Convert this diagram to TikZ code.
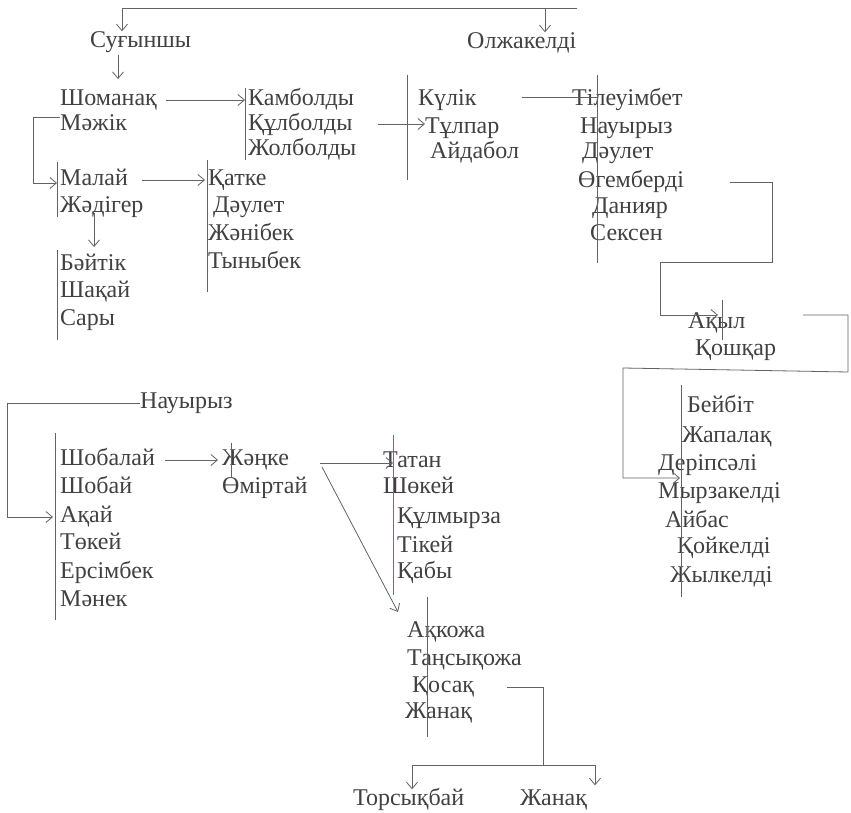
\documentclass[tikz,border=0pt]{standalone}
\usepackage{fontspec}
\setmainfont{Liberation Serif}
\usetikzlibrary{arrows.meta}
\definecolor{txt}{HTML}{414141}
\definecolor{lin}{HTML}{636363}
\definecolor{tealbar}{HTML}{4A7F8C}
\newcommand{\namefont}{\fontsize{24}{28}\selectfont}
\tikzset{
  nm/.style={anchor=west, inner sep=0pt, text=txt, font=\namefont, text height=16pt, text depth=5pt},
  vbar/.style={draw=lin, line width=0.9pt},
  ln/.style={draw=lin, line width=0.8pt},
  arr/.style={ln, -{Straight Barb[length=6.5pt,width=11pt]}},
}
\begin{document}
\begin{tikzpicture}[x=1pt,y=-1pt]
\useasboundingbox (0,0) rectangle (851,813);
\fill[white] (0,0) rectangle (851,813);

% ---------- names ----------
\node[nm] (sug)   at (90,42)  {Суғыншы};
\node[nm] (olzh)  at (467,43) {Олжакелді};
\node[nm] (shom)  at (60,100) {Шоманақ};
\node[nm] (mazh)  at (60,125) {Мәжік};
\node[nm] (kamb)  at (248,100) {Камболды};
\node[nm] (kulb)  at (248,125) {Құлболды};
\node[nm] (zhol)  at (248,150) {Жолболды};
\node[nm] (kulik) at (418,100) {Күлік};
\node[nm] (tulp)  at (425,128) {Тұлпар};
\node[nm] (aidab) at (430,153) {Айдабол};
\node[nm] (tileu) at (572,100) {Тілеуімбет};
\node[nm] (nauA)  at (580,128) {Науырыз};
\node[nm] (daulA) at (582,153) {Дәулет};
\node[nm] (ogem)  at (578,182) {Өгемберді};
\node[nm] (dani)  at (592,208) {Данияр};
\node[nm] (seks)  at (590,235) {Сексен};
\node[nm] (malai) at (60,180) {Малай};
\node[nm] (zhadi) at (60,207) {Жәдігер};
\node[nm] (katke) at (208,180) {Қатке};
\node[nm] (daulB) at (213,207) {Дәулет};
\node[nm] (zhani) at (208,235) {Жәнібек};
\node[nm] (tyny)  at (208,263) {Тыныбек};
\node[nm] (bait)  at (60,265) {Бәйтік};
\node[nm] (shaq)  at (60,292) {Шақай};
\node[nm] (sary)  at (60,320) {Сары};
\node[nm] (akyl)  at (688,323) {Ақыл};
\node[nm] (qosh)  at (695,350) {Қошқар};
\node[nm] (beib)  at (687,407) {Бейбіт};
\node[nm] (zhap)  at (682,437) {Жапалақ};
\node[nm] (derip) at (658,465) {Деріпсәлі};
\node[nm] (myrz)  at (658,493) {Мырзакелді};
\node[nm] (aibas) at (665,522) {Айбас};
\node[nm] (qoik)  at (677,548) {Қойкелді};
\node[nm] (zhylk) at (670,577) {Жылкелді};
\node[nm] (nauB)  at (140,403) {Науырыз};
\node[nm] (shobl) at (60,460) {Шобалай};
\node[nm] (shobi) at (60,488) {Шобай};
\node[nm] (aqai)  at (60,517) {Ақай};
\node[nm] (tokei) at (60,544) {Төкей};
\node[nm] (ersim) at (60,573) {Ерсімбек};
\node[nm] (manek) at (60,601) {Мәнек};
\node[nm] (zhank) at (222,460) {Жәңке};
\node[nm] (omir)  at (222,488) {Өміртай};
\node[nm] (tatan) at (383,462) {Татан};
\node[nm] (shok)  at (383,488) {Шөкей};
\node[nm] (kulm)  at (397,518) {Құлмырза};
\node[nm] (tikei) at (397,547) {Тікей};
\node[nm] (qaby)  at (397,573) {Қабы};
\node[nm] (aqkoz) at (407,632) {Ақкожа};
\node[nm] (tansy) at (407,660) {Таңсықожа};
\node[nm] (qosaq) at (412,687) {Қосақ};
\node[nm] (zhnq)  at (405,713) {Жанақ};
\node[nm] (tors)  at (353,800) {Торсықбай};
\node[nm] (zhnqB) at (520,800) {Жанақ};

% ---------- bars ----------
\coordinate (bK1) at (245,88);  \coordinate (bK2) at (245,160);
\coordinate (bL1) at (407,75);  \coordinate (bL2) at (407,180);
\coordinate (bT1) at (597,75);  \coordinate (bT2) at (597,263);
\coordinate (bM1) at (57,162);  \coordinate (bM2) at (57,217);
\coordinate (bQ1) at (207,160); \coordinate (bQ2) at (207,292);
\coordinate (bB1) at (57,250);  \coordinate (bB2) at (57,340);
\coordinate (bA1) at (722,300); \coordinate (bA2) at (722,340);
\coordinate (bE1) at (681,385); \coordinate (bE2) at (681,597);
\coordinate (bS1) at (55,433);  \coordinate (bS2) at (55,620);
\coordinate (bZ1) at (231,443); \coordinate (bZ2) at (231,478);
\coordinate (bN1) at (393,435); \coordinate (bN2) at (393,595);
\coordinate (bC1) at (427,597); \coordinate (bC2) at (427,737);
\foreach \a/\b in {bK1/bK2,bL1/bL2,bT1/bT2,bM1/bM2,bQ1/bQ2,bB1/bB2,bA1/bA2,bE1/bE2,bS1/bS2,bZ1/bZ2,bC1/bC2}
  \draw[vbar] (\a) -- (\b);
\draw[vbar, draw=tealbar] (bN1) -- (bN2);

% ---------- connectors ----------
% top bracket
\coordinate (tL) at (122,8); \coordinate (tR) at (577,8); \coordinate (tO) at (545,8);
\draw[ln] (tR) -- (tL);
\draw[arr] (tL) -- (tL |- sug.north);
\draw[arr] (tO) -- (tO |- olzh.north);
% Сугыншы -> Шоманақ
\coordinate (s1) at (118,55); \coordinate (s2) at (118,79);
\draw[arr] (s1) -- (s2);
% Шоманақ -> Камболды
\coordinate (c1) at (166,100);
\draw[arr] (c1) -- (bK1 |- c1);
% Құлболды -> Тұлпар
\coordinate (c2) at (378,124);
\draw[arr] (c2) -- (c2 -| tulp.west);
% Күлік -- Тілеуімбет
\coordinate (c3) at (522,97);
\draw[ln] (c3) -- (bT1 |- c3);
% Мәжік -> Малай
\coordinate (m1) at (33,117); \coordinate (m2) at (33,183);
\draw[arr] (mazh.west |- m1) -- (m1) -- (m2) -- ([xshift=-3pt]malai.west |- m2);
% Малай -> Қатке
\coordinate (c4) at (142,180);
\draw[arr] (c4) -- ([xshift=-2pt]bQ1 |- c4);
% Жәдігер -> Бәйтік
\coordinate (j1) at (94,213); \coordinate (j2) at (94,247);
\draw[arr] (j1) -- (j2);
% Өгемберді -> Ақыл
\coordinate (o0) at (730,182);
\coordinate (o1) at (772,182); \coordinate (o2) at (772,262);
\coordinate (o3) at (660,262); \coordinate (o4) at (660,315);
\draw[arr] (o0) -- (o1) -- (o2) -- (o3) -- (o4) -- ([xshift=-4pt]bA1 |- o4);
% Ақыл -> Мырзакелді
\coordinate (q1) at (803,315); \coordinate (q2) at (848,315);
\coordinate (q3) at (848,372); \coordinate (q4) at (623,368);
\coordinate (q5) at (623,478);
\draw[arr] (q1) -- (q2) -- (q3) -- (q4) -- (q5) -- ([xshift=-1pt]bE1 |- q5);
% Науырыз -> Ақай
\coordinate (n1) at (7,403); \coordinate (n2) at (7,517);
\draw[arr] (nauB.west) -- (n1) -- (n2) -- ([xshift=-2pt]bS1 |- n2);
% Шобалай -> Жәңке
\coordinate (c5) at (165,460);
\draw[arr] (c5) -- ([xshift=-4pt]zhank.west);
% Жәңке -> Татан, Жәңке -> Ақкожа
\coordinate (z1) at (320,463); \coordinate (z2) at (322,467); \coordinate (z3) at (398,612);
\draw[arr] (z1) -- (bN1 |- z1);
\draw[arr] (z2) -- (z3);
% Қосақ -> Торсықбай, Жанақ
\coordinate (k1) at (507,687); \coordinate (k2) at (543,687);
\coordinate (k3) at (543,765); \coordinate (kL) at (412,765); \coordinate (kR) at (595,765);
\draw[ln] (k1) -- (k2) -- (k3);
\draw[ln] (kL) -- (kR);
\draw[arr] (kL) -- (kL |- tors.north);
\draw[arr] (kR) -- ([yshift=4pt]kR |- zhnqB.north);
\end{tikzpicture}
\end{document}
